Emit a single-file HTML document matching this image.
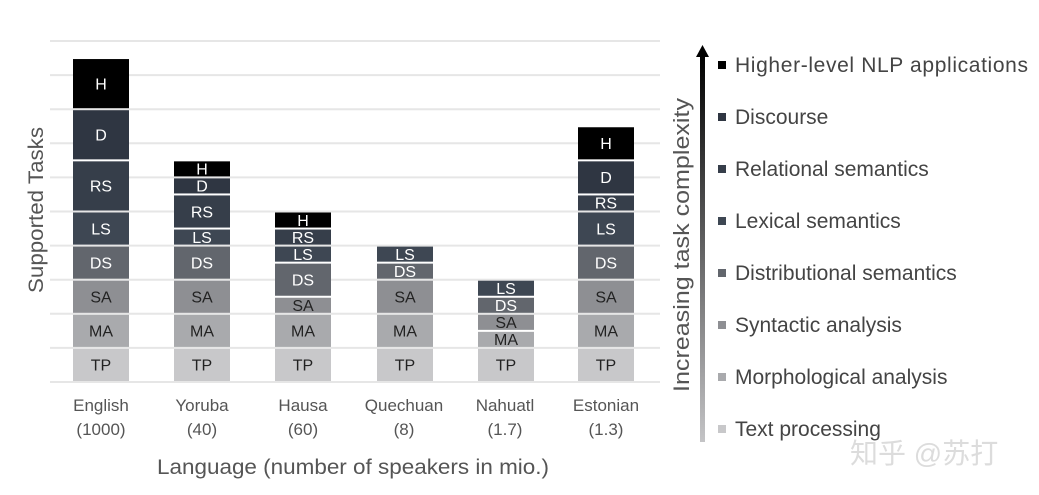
<!DOCTYPE html>
<html><head><meta charset="utf-8"><style>
html,body{margin:0;padding:0;background:#fff;}
svg{display:block;font-family:"Liberation Sans","Noto Sans CJK SC",sans-serif;}
</style></head><body>
<svg id="c" width="1039" height="495" viewBox="0 0 1039 495" xmlns="http://www.w3.org/2000/svg">
<defs>
<linearGradient id="ag" x1="0" y1="0" x2="0" y2="1">
<stop offset="0" stop-color="#000"/><stop offset="1" stop-color="#c4c4c6"/>
</linearGradient>
</defs>
<g stroke="#e6e6e6" stroke-width="2" id="grid"></g>
<g id="bars"></g>
<text transform="translate(43,210) rotate(-90)" text-anchor="middle" font-size="21" fill="#555" textLength="166" lengthAdjust="spacingAndGlyphs">Supported Tasks</text>
<g font-size="17" fill="#555" text-anchor="middle">
<text x="101" y="411">English</text><text x="101" y="435">(1000)</text>
<text x="202" y="411">Yoruba</text><text x="202" y="435">(40)</text>
<text x="303" y="411">Hausa</text><text x="303" y="435">(60)</text>
<text x="404" y="411">Quechuan</text><text x="404" y="435">(8)</text>
<text x="505" y="411">Nahuatl</text><text x="505" y="435">(1.7)</text>
<text x="606" y="411">Estonian</text><text x="606" y="435">(1.3)</text>
</g>
<text x="157" y="474" font-size="21" fill="#555" textLength="392" lengthAdjust="spacingAndGlyphs">Language (number of speakers in mio.)</text>
<rect x="700" y="55" width="5" height="387" fill="url(#ag)"/>
<polygon points="696,57 702.5,45 709,57" fill="#000"/>
<text transform="translate(689,245) rotate(-90)" text-anchor="middle" font-size="22" fill="#555" textLength="294" lengthAdjust="spacingAndGlyphs">Increasing task complexity</text>
<g id="leg" font-size="21" fill="#444"></g>
<text x="850" y="463" font-size="28" fill="#dcdcdc">知乎 @苏打</text>
</svg>
<script>
var ns="http://www.w3.org/2000/svg";
function el(p,t,a,txt){var e=document.createElementNS(ns,t);for(var k in a)if(a[k]!==null)e.setAttribute(k,a[k]);if(txt)e.textContent=txt;p.appendChild(e);return e;}
var grid=document.getElementById('grid');
var base=382,u=34.1;
for(var i=0;i<=10;i++){var y=base-i*u;el(grid,'line',{x1:50,x2:660,y1:y,y2:y});}
var col={TP:'#c8c8ca',MA:'#a9aaad',SA:'#8e8f93',DS:'#62666d',LS:'#3e4753',RS:'#363e4a',D:'#2f3642',H:'#000'};
var data=[
[73,[['TP',1],['MA',1],['SA',1],['DS',1],['LS',1],['RS',1.5],['D',1.5],['H',1.5]]],
[174,[['TP',1],['MA',1],['SA',1],['DS',1],['LS',.5],['RS',1],['D',.5],['H',.5]]],
[275,[['TP',1],['MA',1],['SA',.5],['DS',1],['LS',.5],['RS',.5],['H',.5]]],
[377,[['TP',1],['MA',1],['SA',1],['DS',.5],['LS',.5]]],
[478,[['TP',1],['MA',.5],['SA',.5],['DS',.5],['LS',.5]]],
[578,[['TP',1],['MA',1],['SA',1],['DS',1],['LS',1],['RS',.5],['D',1],['H',1]]]
];
var bars=document.getElementById('bars');
data.forEach(function(b){var y=base;b[1].forEach(function(s){var h=s[1]*u;var top=y-h;
el(bars,'rect',{x:b[0],y:top+1,width:56,height:h-2,fill:col[s[0]]});
var fs=16;
el(bars,'text',{x:b[0]+28,y:top+h/2+fs*0.36,'font-size':fs,'text-anchor':'middle',fill:(s[0]=='TP'||s[0]=='MA'||s[0]=='SA')?'#222':'#fff'},s[0]);
y=top;});});
var leg=document.getElementById('leg');
var L=[['Higher-level NLP applications','#000'],['Discourse','#2f3642'],['Relational semantics','#363e4a'],['Lexical semantics','#3e4753'],['Distributional semantics','#62666d'],['Syntactic analysis','#8e8f93'],['Morphological analysis','#a9aaad'],['Text processing','#c8c8ca']];
L.forEach(function(l,i){var cy=65+i*52;el(leg,'rect',{x:718,y:cy-4,width:8,height:8,fill:l[1]});el(leg,'text',{x:735,y:cy+7,textLength:(i==0?293:null)},l[0]);});
</script>
</body></html>
